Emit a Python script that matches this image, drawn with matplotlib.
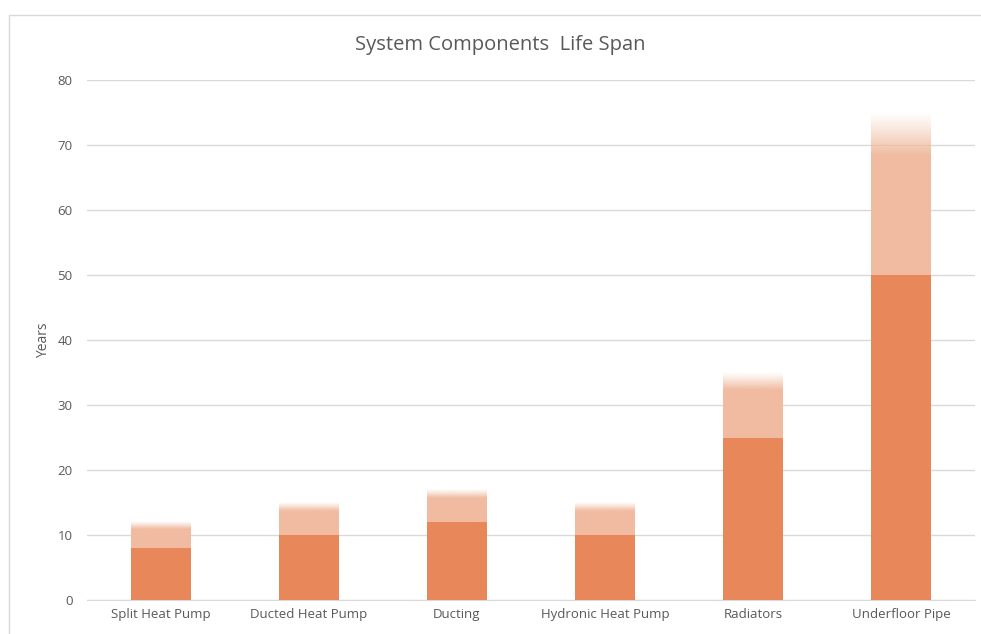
import numpy as np
import matplotlib.pyplot as plt
from matplotlib.colors import to_rgb
from matplotlib.patches import Rectangle

# Data: minimum and maximum expected life span (years)
categories = ["Split Heat Pump", "Ducted Heat Pump", "Ducting",
              "Hydronic Heat Pump", "Radiators", "Underfloor Pipe"]
min_years = [8, 10, 12, 10, 25, 50]
max_years = [12, 15, 17, 15, 35, 75]

base_color = "#E8885A"
range_color = "#F0BBA0"
text_color = "#595959"
fade_frac = 0.27  # top part of the range bar fades out

plt.rcParams['font.family'] = ['Open Sans', 'DejaVu Sans']

fig = plt.figure(figsize=(9.81, 6.34), dpi=100)
ax = fig.add_axes([87 / 981, 34 / 634, 888 / 981, 520 / 634])

x = np.arange(len(categories))
width = 0.405
mins = np.array(min_years, dtype=float)
maxs = np.array(max_years, dtype=float)
span = maxs - mins
fade = span * fade_frac

ax.bar(x, mins, width=width, color=base_color, zorder=3)
ax.bar(x, span - fade, bottom=mins, width=width, color=range_color, zorder=3)

# gradient fade at the top of each range bar
rgb = to_rgb(range_color)
grad = np.zeros((100, 1, 4))
grad[:, 0, :3] = rgb
grad[:, 0, 3] = np.linspace(1, 0, 100) ** 1.1
for xi, top, f in zip(x, maxs, fade):
    ax.imshow(grad, extent=[xi - width / 2, xi + width / 2, top - f, top],
              origin="lower", aspect="auto", interpolation="bilinear", zorder=3)

ax.set_xlim(-0.5, len(categories) - 0.5)
ax.set_ylim(0, 80)
ax.set_yticks(np.arange(0, 81, 10))
ax.set_xticks(x)
ax.set_xticklabels(categories)
ax.tick_params(axis="both", length=0, colors=text_color, labelsize=9.5)
ax.tick_params(axis="y", pad=10.5)
ax.tick_params(axis="x", pad=6)
ax.grid(axis="y", color="#D9D9D9", linewidth=1, zorder=0)
for s in ax.spines.values():
    s.set_visible(False)
ax.spines["bottom"].set_visible(True)
ax.spines["bottom"].set_color("#D9D9D9")

ax.set_ylabel("Years", color=text_color, fontsize=10)
ax.yaxis.set_label_coords(-0.041, 0.5)
fig.text(500 / 981, 1 - 45 / 634, "System Components  Life Span",
         ha="center", va="center", fontsize=14.5, color=text_color)

# chart area border
fig.patches.append(Rectangle((9 / 981, -0.1), 1.2, 1 - 15 / 634 + 0.1,
                             transform=fig.transFigure, fill=False,
                             edgecolor="#D9D9D9", linewidth=1))

fig.savefig("out.png", dpi=100)
